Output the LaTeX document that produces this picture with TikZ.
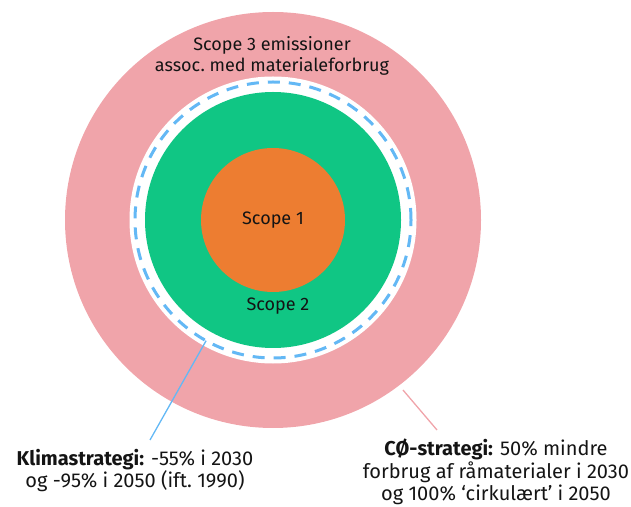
\documentclass[tikz,border=0pt]{standalone}
\usepackage{fontspec}
\setmainfont{Fira Sans}
\usetikzlibrary{calc}
\definecolor{cpink}{RGB}{240,164,170}
\definecolor{cgreen}{RGB}{16,198,132}
\definecolor{corange}{RGB}{237,125,49}
\definecolor{cblue}{RGB}{99,184,245}
\definecolor{ctext}{RGB}{20,20,20}
\begin{document}
\begin{tikzpicture}[x=1pt,y=1pt,
  ring/.style={circle,inner sep=0pt,outer sep=0pt,minimum size=#1},
  lbl/.style={text=ctext,align=center,inner sep=0pt,font=\fontsize{18}{21}\selectfont},
  biglbl/.style={text=ctext,align=center,inner sep=0pt,font=\fontsize{20}{22}\selectfont}]
\useasboundingbox (0,0) rectangle (631,506);
\node[ring=416pt,fill=cpink] (outer) at (273,286) {};
\node[ring=287pt,fill=white] (gap) at (273,286) {};
\node[ring=276pt,draw=cblue,line width=3pt,dash pattern=on 12pt off 9pt] (dash) at (273,286) {};
\node[ring=256pt,fill=cgreen] (green) at (273,286) {};
\node[ring=144pt,fill=corange] (orange) at (273,286) {};
\node[lbl] (s1) at (273,286) {Scope 1};
\node[lbl] (s2) at (278,200) {Scope 2};
\node[lbl] (s3) at (272,450.5) {Scope 3 emissioner\\assoc.\ med materialeforbrug};
\node[biglbl] (klima) at (135,35) {\textbf{Klimastrategi:} -55\% i 2030\\og -95\% i 2050 (ift.\ 1990)};
\node[biglbl,font=\fontsize{20}{22.5}\selectfont] (co) at (496,34) {\textbf{CØ-strategi:} 50\% mindre\\forbrug af råmaterialer i 2030\\og 100\% ‘cirkulært’ i 2050};
\coordinate (kend) at (150,66);
\coordinate (cend) at (437,76);
\draw[cblue,line width=1.3pt] (dash.241.6) -- (kend);
\draw[cpink,line width=1.3pt] ($(outer.center)+(307.4:214)$) -- (cend);
\end{tikzpicture}
\end{document}
